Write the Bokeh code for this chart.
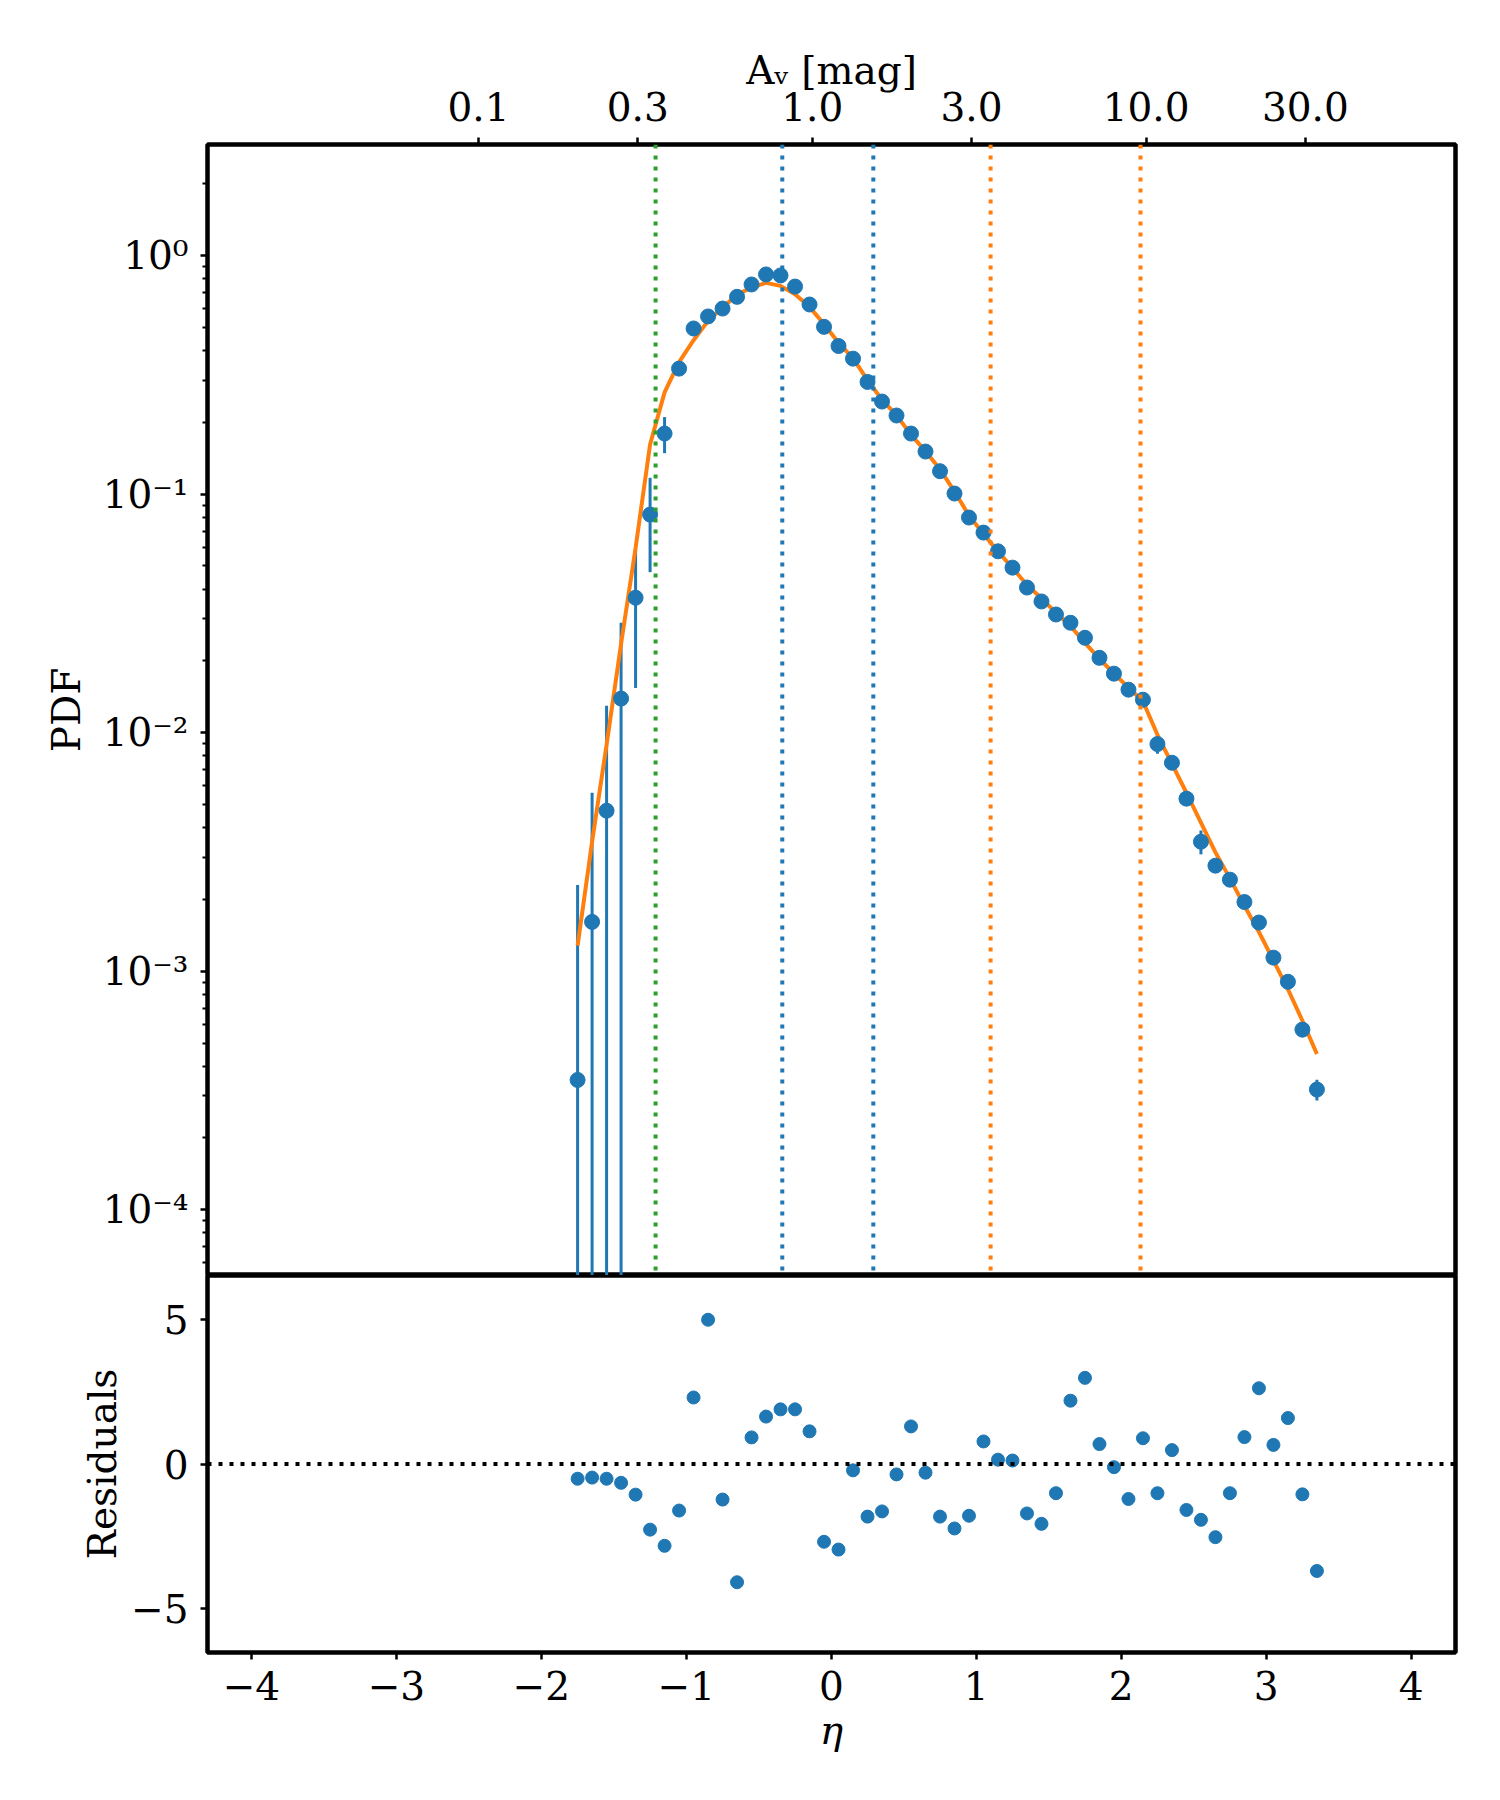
import numpy as np
from bokeh.plotting import figure
from bokeh.models import Range1d, FixedTicker, LinearAxis, Span, CustomJSTickFormatter, ColumnDataSource
from bokeh.layouts import column
from bokeh.embed import file_html
from bokeh.resources import INLINE

# ---------------- data ----------------
eta = [-1.75, -1.65, -1.55, -1.45, -1.35, -1.25, -1.15, -1.05, -0.95, -0.85,
       -0.75, -0.65, -0.55, -0.45, -0.35, -0.25, -0.15, -0.05, 0.05, 0.15,
       0.25, 0.35, 0.45, 0.55, 0.65, 0.75, 0.85, 0.95, 1.05, 1.15,
       1.25, 1.35, 1.45, 1.55, 1.65, 1.75, 1.85, 1.95, 2.05, 2.15,
       2.25, 2.35, 2.45, 2.55, 2.65, 2.75, 2.85, 2.95, 3.05, 3.15,
       3.25, 3.35]

pdf = [3.50e-4, 1.61e-3, 4.71e-3, 0.0139, 0.0368, 0.0821, 0.1795, 0.336, 0.495, 0.556,
       0.600, 0.672, 0.757, 0.834, 0.826, 0.742, 0.624, 0.503, 0.418, 0.370,
       0.2955, 0.2445, 0.2137, 0.1795, 0.1509, 0.1248, 0.1006, 0.0798, 0.0690, 0.0576,
       0.0492, 0.0406, 0.0355, 0.0313, 0.0289, 0.0250, 0.0206, 0.01768, 0.01515, 0.01375,
       8.96e-3, 7.48e-3, 5.29e-3, 3.49e-3, 2.77e-3, 2.42e-3, 1.95e-3, 1.60e-3, 1.14e-3, 9.03e-4,
       5.69e-4, 3.19e-4]

pdf_err = [1.95e-3, 3.99e-3, 8.26e-3, 0.0150, 0.0214, 0.0350, 0.0310, 0.013, 0.023, 0.0046,
           0.005, 0.0032, 0.023, 0.040, 0.042, 0.028, 0.012, 0.005, 0.0044, 0.004,
           0.0030, 0.0024, 0.0022, 0.0018, 0.0017, 0.0013, 0.0010, 0.0008, 0.0009, 0.0008,
           0.0007, 0.0006, 0.0005, 0.0005, 0.0004, 0.0004, 0.0003, 0.0003, 0.0003, 0.0002,
           8.0e-4, 1.7e-4, 2.0e-4, 4.0e-4, 1.5e-4, 1.0e-4, 8.0e-5, 5.0e-5, 4.5e-5, 4.0e-5,
           4.0e-5, 3.2e-5]

model = [1.28e-3, 3.49e-3, 8.9e-3, 0.0236, 0.0595, 0.1616, 0.2672, 0.358, 0.442, 0.533,
         0.606, 0.685, 0.736, 0.769, 0.747, 0.689, 0.610, 0.516, 0.431, 0.3716,
         0.301, 0.2485, 0.2145, 0.1772, 0.1514, 0.1271, 0.1028, 0.0812, 0.0683, 0.0574,
         0.0491, 0.0416, 0.0366, 0.0318, 0.0280, 0.0238, 0.0204, 0.01771, 0.01545, 0.01355,
         9.8e-3, 7.4e-3, 5.6e-3, 4.2e-3, 3.15e-3, 2.45e-3, 1.88e-3, 1.46e-3, 1.11e-3, 8.4e-4,
         6.2e-4, 4.5e-4]

residuals = [-0.51, -0.47, -0.51, -0.65, -1.06, -2.27, -2.83, -1.61, 2.30, 4.99,
             -1.23, -4.09, 0.92, 1.64, 1.89, 1.89, 1.13, -2.69, -2.96, -0.22,
             -1.82, -1.64, -0.36, 1.30, -0.30, -1.82, -2.23, -1.79, 0.78, 0.15,
             0.12, -1.71, -2.07, -1.01, 2.19, 2.98, 0.69, -0.11, -1.21, 0.89,
             -1.01, 0.48, -1.59, -1.93, -2.53, -1.01, 0.93, 2.62, 0.66, 1.59,
             -1.05, -3.70]

# vertical reference lines (eta) and their colours
vline_eta = [-1.212, -0.338, 0.290, 1.099, 2.133]
vline_color = ["#2ca02c", "#1f77b4", "#1f77b4", "#ff7f0e", "#ff7f0e"]

# secondary (top) axis: A_v in mag, eta = ln(A_v / av_ref)
av_ticks = [0.1, 0.3, 1.0, 3.0, 10.0, 30.0]
av_ref = 1.14

x_ticks = [-4, -3, -2, -1, 0, 1, 2, 3, 4]
res_ticks = [-5, 0, 5]
pdf_decades = [1e-4, 1e-3, 1e-2, 1e-1, 1.0]

# ---------------- styling ----------------
FONT = "DejaVu Serif"
FS = "39px"
BLUE = "#1f77b4"
ORANGE = "#ff7f0e"

LEFT = 207
RIGHT = 37
FW = 1248

x_range = Range1d(-4.303, 4.306)


def style_axis(ax):
    ax.axis_line_color = None
    ax.major_tick_line_color = "black"
    ax.major_tick_line_width = 2.5
    ax.major_tick_out = 7
    ax.major_tick_in = 0
    ax.minor_tick_line_color = "black"
    ax.minor_tick_line_width = 2
    ax.minor_tick_out = 5
    ax.minor_tick_in = 0
    ax.major_label_text_font = FONT
    ax.major_label_text_font_size = FS
    ax.major_label_text_color = "black"
    ax.axis_label_text_font = FONT
    ax.axis_label_text_font_size = FS
    ax.axis_label_text_font_style = "normal"
    ax.axis_label_text_color = "black"


minus_fmt = CustomJSTickFormatter(code="""
    const v = Math.round(tick);
    return (v < 0 ? "\u2212" : "") + Math.abs(v).toString();
""")

log_fmt = CustomJSTickFormatter(code="""
    const e = Math.round(Math.log10(tick));
    const sup = {"0":"\u2070","1":"\u00b9","2":"\u00b2","3":"\u00b3","4":"\u2074",
                 "5":"\u2075","6":"\u2076","7":"\u2077","8":"\u2078","9":"\u2079","-":"\u207b"};
    return "10" + String(e).split("").map(c => sup[c]).join("");
""")

av_fmt = CustomJSTickFormatter(args=dict(ref=av_ref), code="""
    return (ref * Math.exp(tick)).toFixed(1);
""")

# ---------------- main panel ----------------
p = figure(frame_width=FW, frame_height=1131, x_range=x_range,
           y_range=Range1d(5.3e-5, 2.924), y_axis_type="log",
           x_axis_location=None, output_backend="svg", toolbar_location=None,
           min_border_left=LEFT, min_border_right=RIGHT, min_border_top=144,
           min_border_bottom=0)
p.grid.grid_line_color = None
p.outline_line_color = "black"
p.outline_line_width = 4.5
p.outline_line_alpha = 1.0
p.background_fill_color = "white"
p.border_fill_color = "white"

eta_arr = np.array(eta)
pdf_arr = np.array(pdf)
err_arr = np.array(pdf_err)
src = ColumnDataSource(dict(
    eta=eta_arr, pdf=pdf_arr,
    lo=np.maximum(pdf_arr - err_arr, 1e-9), hi=pdf_arr + err_arr,
    model=np.array(model), res=np.array(residuals)))

for loc, col in zip(vline_eta, vline_color):
    p.add_layout(Span(location=loc, dimension="height", line_color=col,
                      line_dash="4 7", line_width=4))

p.segment(x0="eta", y0="lo", x1="eta", y1="hi", source=src, line_color=BLUE, line_width=3)
p.line(x="eta", y="model", source=src, line_color=ORANGE, line_width=4)
p.scatter(x="eta", y="pdf", source=src, size=15, fill_color=BLUE, line_color=BLUE)

yax = p.yaxis[0]
minor = [m * 10.0 ** e for e in range(-5, 1) for m in range(2, 10)]
yax.ticker = FixedTicker(ticks=pdf_decades, minor_ticks=minor)
yax.formatter = log_fmt
yax.axis_label = "PDF"
style_axis(yax)
yax.major_label_standoff = 12
yax.axis_label_standoff = 11

top = LinearAxis(ticker=FixedTicker(ticks=[float(np.log(a / av_ref)) for a in av_ticks]),
                 formatter=av_fmt, axis_label="A\u1d65 [mag]")
style_axis(top)
top.major_label_standoff = 17
top.axis_label_standoff = -4
p.add_layout(top, "above")

# ---------------- residual panel ----------------
r = figure(frame_width=FW, frame_height=377, x_range=x_range,
           y_range=Range1d(-6.52, 6.52), output_backend="svg", toolbar_location=None,
           min_border_left=LEFT, min_border_right=RIGHT, min_border_top=0,
           min_border_bottom=130)
r.grid.grid_line_color = None
r.outline_line_color = "black"
r.outline_line_width = 4.5
r.outline_line_alpha = 1.0

r.add_layout(Span(location=0, dimension="width", line_color="black",
                  line_dash="4 7", line_width=4))
r.scatter(x="eta", y="res", source=src, size=13, fill_color=BLUE, line_color=BLUE)

rx = r.xaxis[0]
rx.ticker = FixedTicker(ticks=x_ticks)
rx.formatter = minus_fmt
rx.axis_label = "\u03b7"
style_axis(rx)
rx.axis_label_text_font_style = "italic"
rx.major_label_standoff = 11
rx.axis_label_standoff = 5

ry = r.yaxis[0]
ry.ticker = FixedTicker(ticks=res_ticks)
ry.formatter = minus_fmt
ry.axis_label = "Residuals"
style_axis(ry)
ry.major_label_standoff = 12
ry.axis_label_standoff = 3

layout = column(p, r, spacing=0)
open("out.html", "w").write(file_html(layout, INLINE))
